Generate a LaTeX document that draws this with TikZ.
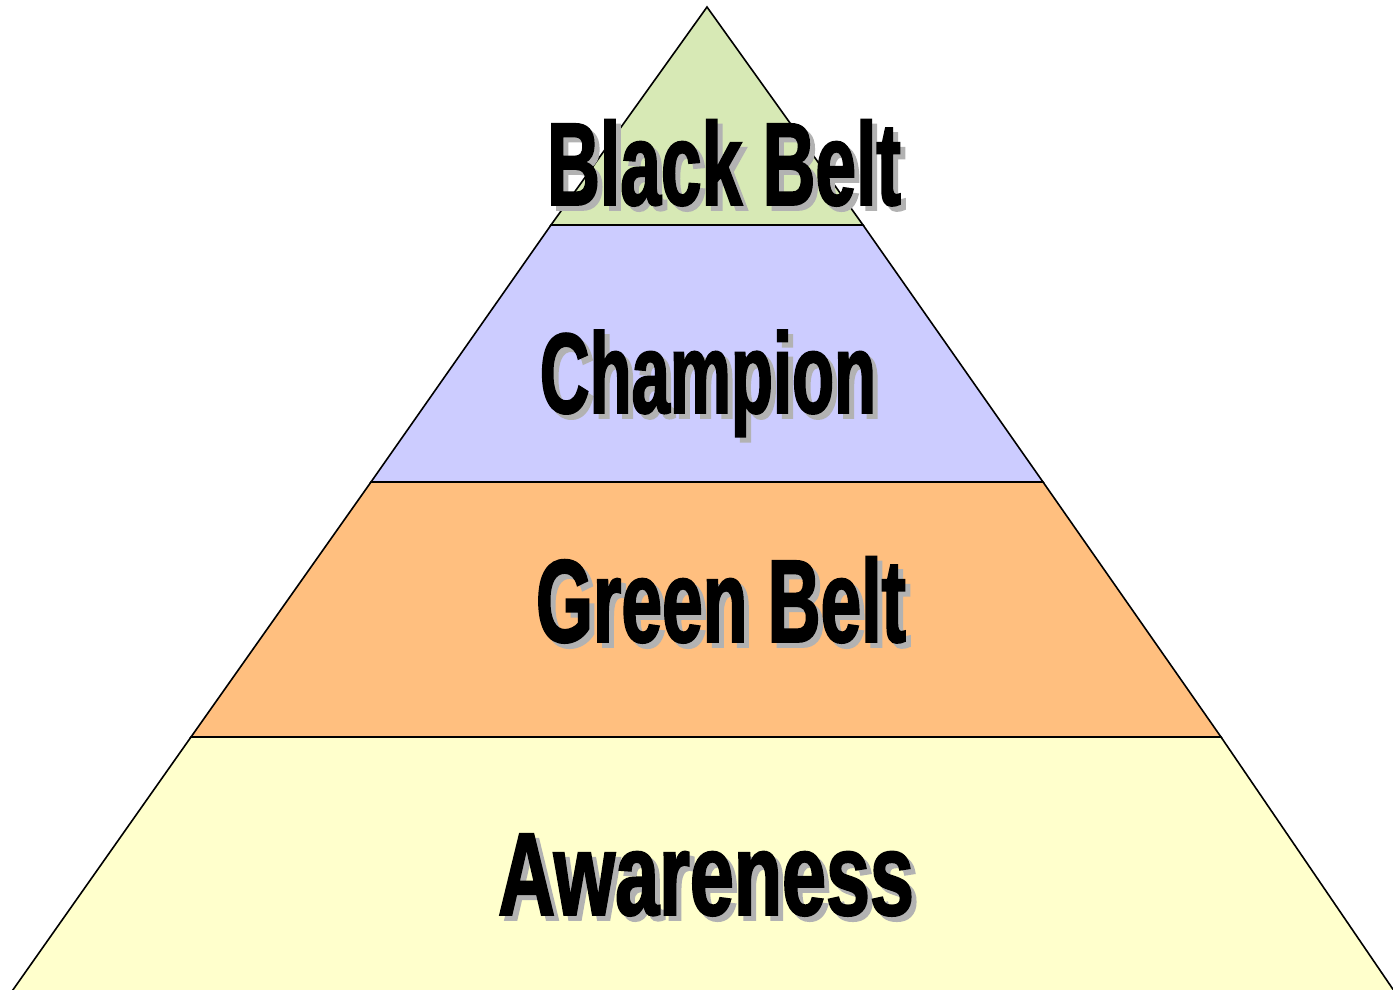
\documentclass[tikz,border=0pt]{standalone}
\usepackage{fontspec}
\newfontfamily\beltfont[FakeStretch=0.62,FakeBold=1.5]{Liberation Sans Bold}
\definecolor{blackbeltfill}{HTML}{D7E9B5}
\definecolor{championfill}{HTML}{CCCCFF}
\definecolor{greenbeltfill}{HTML}{FFBF7F}
\definecolor{awarenessfill}{HTML}{FFFFCC}
\definecolor{shadowgray}{HTML}{B2B2B2}
\begin{document}
\begin{tikzpicture}[x=1pt,y=-1pt,
  layer/.style={draw=black,line width=1.6pt,line join=miter},
  beltlabel/.style={anchor=base,inner sep=0pt,font=\beltfont\fontsize{118}{118}\selectfont},
  beltshadow/.style={beltlabel,text=shadowgray}]
\useasboundingbox (0,0) rectangle (1393,990);
\clip (0,0) rectangle (1393,990);

\filldraw[layer,fill=awarenessfill] (191,737) -- (1221,737) -- (1403,1004) -- (3,1004) -- cycle;
\filldraw[layer,fill=greenbeltfill] (371,482) -- (1043,482) -- (1221,737) -- (191,737) -- cycle;
\filldraw[layer,fill=championfill] (551,225) -- (863,225) -- (1043,482) -- (371,482) -- cycle;
\filldraw[layer,fill=blackbeltfill] (707,7) -- (863,225) -- (551,225) -- cycle;

\node[beltshadow] (blackshadow) at (729,210) {Black Belt};
\node[beltlabel] (black) at (724,205) {Black Belt};

\node[beltshadow] (champshadow) at (713,418) {\scalebox{0.94}[0.97]{Champion}};
\node[beltlabel] (champ) at (708,413) {\scalebox{0.94}[0.97]{Champion}};

\node[beltshadow] (greenshadow) at (726,647) {Green Belt};
\node[beltlabel] (green) at (721,642) {Green Belt};

\node[beltshadow] (awareshadow) at (711,920) {\scalebox{1.08}[1]{Awareness}};
\node[beltlabel] (aware) at (706,915) {\scalebox{1.08}[1]{Awareness}};
\end{tikzpicture}
\end{document}
